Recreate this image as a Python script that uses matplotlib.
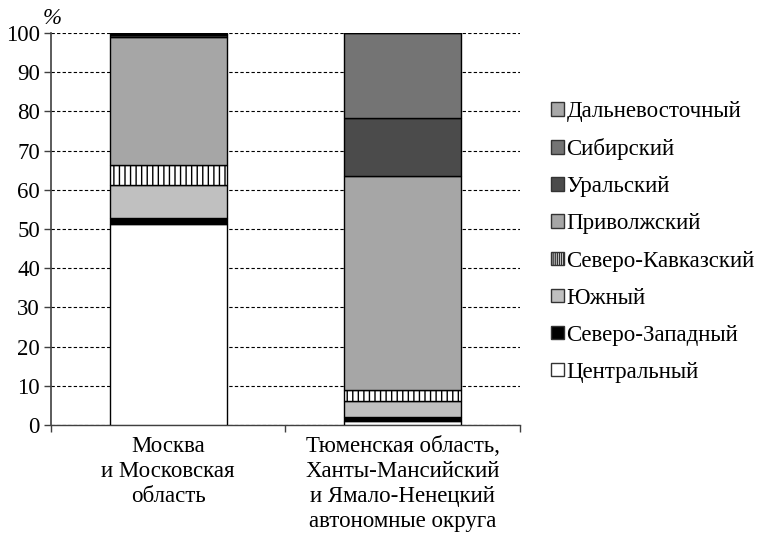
import matplotlib
matplotlib.use("Agg")
import matplotlib.pyplot as plt
import matplotlib.patches as mpatches
import numpy as np

plt.rcParams['font.family'] = ['Liberation Serif', 'DejaVu Serif']
plt.rcParams['hatch.linewidth'] = 1.0

# --- data ---
categories = ["Москва\nи Московская\nобласть",
              "Тюменская область,\nХанты-Мансийский\nи Ямало-Ненецкий\nавтономные округа"]
districts = ["Центральный", "Северо-Западный", "Южный", "Северо-Кавказский",
             "Приволжский", "Уральский", "Сибирский", "Дальневосточный"]
moscow = [51.3, 1.5, 8.3, 5.1, 32.8, 0.4, 0.3, 0.3]
tyumen = [1.0, 1.0, 4.2, 2.7, 54.7, 14.7, 21.7, 0.0]

colors = ["white", "black", "#c0c0c0", "white", "#a6a6a6", "#4b4b4b", "#747474", "#a8a8a8"]
hatches = [None, None, None, "|||", None, None, None, None]

fs = 16.5

fig = plt.figure(figsize=(7.59, 5.34), dpi=100)
ax = fig.add_axes([51 / 759, 1 - 425 / 534, 469 / 759, 392 / 534])

x = np.arange(len(categories))
bottom = np.zeros(len(categories))
for i, name in enumerate(districts):
    vals = np.array([moscow[i], tyumen[i]])
    ax.bar(x, vals, width=0.5, bottom=bottom, color=colors[i],
           edgecolor="black", linewidth=1.0, hatch=hatches[i], label=name,
           zorder=3)
    bottom += vals

ax.set_xlim(-0.5, 1.5)
ax.set_ylim(0, 100)
ax.set_yticks(np.arange(0, 101, 10))
ax.yaxis.grid(True, linestyle=(0, (3, 2)), color="black", linewidth=0.8, zorder=0)
ax.set_axisbelow(True)

for s in ["top", "right"]:
    ax.spines[s].set_visible(False)
ax.spines["left"].set_color("#404040")
ax.spines["bottom"].set_color("#404040")
ax.spines["left"].set_linewidth(1.2)
ax.spines["bottom"].set_linewidth(1.0)

ax.tick_params(axis="y", direction="out", length=5, width=1, color="#404040",
               labelsize=fs, pad=3)
# category ticks: boundaries for marks, centers for labels
ax.set_xticks([-0.5, 0.5, 1.5])
ax.set_xticklabels([])
ax.tick_params(axis="x", direction="out", length=5, width=1, color="#404040")
ax.set_xticks(x, minor=True)
ax.set_xticklabels(categories, minor=True, fontsize=fs, linespacing=1.25)
ax.tick_params(axis="x", which="minor", length=0, pad=8)

fig.text(52 / 759, 1 - 18 / 534, "%", fontsize=fs, style="italic",
         ha="center", va="center")

# legend proxies (denser hatch so the small square shows stripes)
proxies = []
for i in range(len(districts)):
    h = "||||||||" if hatches[i] else None
    proxies.append(mpatches.Patch(facecolor=colors[i], edgecolor="#333333",
                                  linewidth=1.0, hatch=h))

leg = fig.legend(proxies[::-1], districts[::-1], loc="center left",
                 bbox_to_anchor=(551 / 759, 1 - 242 / 534), frameon=False,
                 fontsize=fs, handlelength=0.55, handleheight=0.55,
                 handletextpad=0.13, labelspacing=0.70, borderpad=0,
                 borderaxespad=0)

fig.savefig("out.png", dpi=100)
